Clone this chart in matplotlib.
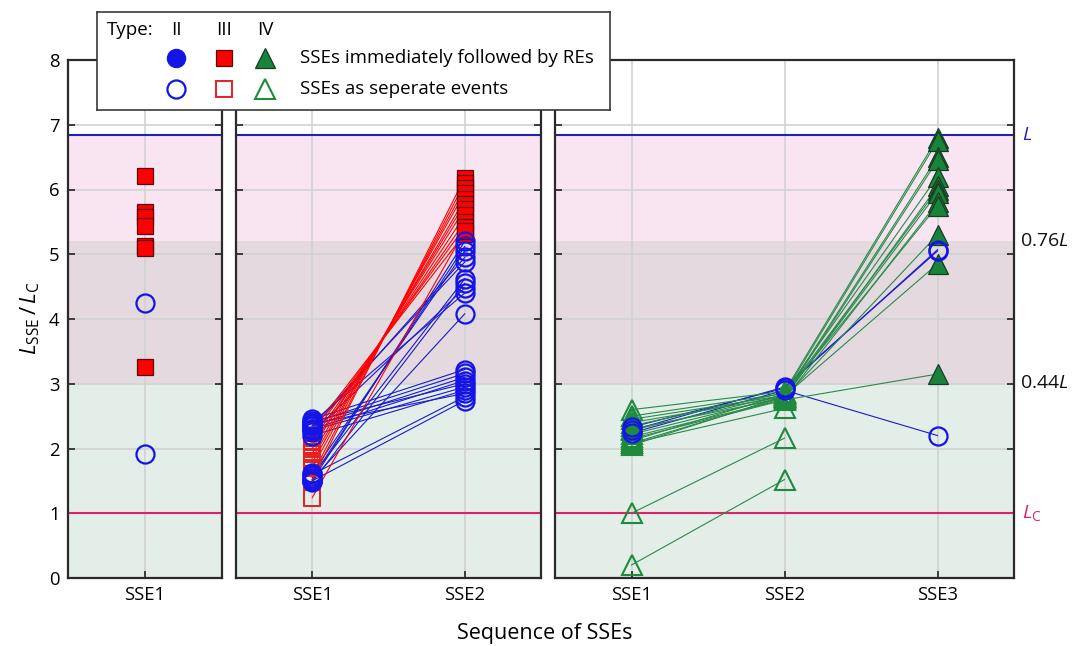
import matplotlib
matplotlib.use("Agg")
import matplotlib.pyplot as plt

plt.rcParams["font.family"] = ["Open Sans", "DejaVu Sans"]
plt.rcParams["mathtext.fontset"] = "custom"
plt.rcParams["mathtext.rm"] = "Open Sans"
plt.rcParams["mathtext.it"] = "Open Sans:italic"

# ---------------------------------------------------------------- data
L_RATIO = 6.84            # L / L_C
UPPER_FRAC = 0.76         # 0.76 L
LOWER_FRAC = 0.44         # 0.44 L
LC_RATIO = 1.0

y_ticks = [0, 1, 2, 3, 4, 5, 6, 7, 8]
cats_p1 = ["SSE1"]
cats_p2 = ["SSE1", "SSE2"]
cats_p3 = ["SSE1", "SSE2", "SSE3"]

# single SSEs
p1_iii_filled = [6.21, 5.65, 5.58, 5.44, 5.13, 5.10, 3.26]
p1_ii_open = [4.25, 1.91]

# two SSEs: type III (SSE2 followed by REs)
p2_iii_sse1 = [1.52, 1.60, 1.70, 1.78, 1.85, 1.92, 2.00, 2.05, 2.12, 2.20, 2.28, 1.24]
p2_iii_sse2 = [6.18, 6.10, 6.02, 5.95, 5.85, 5.78, 5.70, 5.60, 5.50, 5.42, 5.32, 5.36]
# two SSEs: type II (separate events)
p2_ii_sse1 = [1.50, 1.55, 1.62, 2.30, 2.35, 1.58, 1.48, 2.25, 2.40, 1.52,
              2.45, 2.40, 2.35, 2.30, 2.42, 2.28, 2.20, 2.38, 1.60, 1.50]
p2_ii_sse2 = [5.20, 5.12, 5.05, 4.95, 4.88, 4.62, 4.55, 4.48, 4.40, 4.08,
              3.22, 3.16, 3.10, 3.05, 3.00, 2.95, 2.90, 2.85, 2.80, 2.74]

# three SSEs: type IV (SSE3 followed by REs)
p3_iv_sse1 = [2.60, 2.50, 2.45, 2.40, 2.35, 2.30, 2.28, 2.22, 2.18, 2.12, 2.08, 2.05, 2.15]
p3_iv_sse2 = [2.88, 2.85, 2.82, 2.80, 2.86, 2.78, 2.83, 2.80, 2.76, 2.84, 2.79, 2.81, 2.75]
p3_iv_sse3 = [6.80, 6.75, 6.50, 6.45, 6.20, 6.05, 6.00, 5.95, 5.80, 5.75, 5.30, 4.85, 3.15]
# three SSEs: type II
p3_ii_sse1 = [2.33, 2.28, 2.24]
p3_ii_sse2 = [2.93, 2.95, 2.90]
p3_ii_sse3 = [5.07, 5.05, 2.20]
# type IV pairs ending at SSE2
p3_iv_pair_sse1 = [2.08, 1.00, 0.20]
p3_iv_pair_sse2 = [2.62, 2.16, 1.52]

# ---------------------------------------------------------------- style
BLUE = "#1414e6"
BLUE_LINE = "#1a1acc"
RED = "#ff0000"
RED_EDGE = "#5a0a0a"
RED_OPEN = "#e52020"
GREEN = "#17843a"
GREEN_EDGE = "#173a22"
GREEN_OPEN = "#1d8a3c"
GREEN_LINE = "#2a8a4a"
L_COLOR = "#2222b0"
LC_COLOR = "#e0206a"
SHADE_LOW = "#e3eee8"
SHADE_MID = "#e3d9df"
SHADE_TOP = "#f9e5f1"
GRID = "#d2d2d2"

W, H = 1087, 646
fig = plt.figure(figsize=(W / 100, H / 100), dpi=100)

y0_px, y8_px = 578, 60
panels_px = [(68, 222), (236, 541), (555, 1014)]


def add_panel(x0, x1):
    return fig.add_axes([x0 / W, 1 - y0_px / H, (x1 - x0) / W, (y0_px - y8_px) / H])


def style_panel(ax, cats, show_y):
    n = len(cats)
    ax.set_xlim(0.5, n + 0.5)
    ax.set_ylim(0, 8)
    ax.set_axisbelow(True)
    ax.axhspan(0, L_RATIO * LOWER_FRAC, color=SHADE_LOW, lw=0, zorder=0.2)
    ax.axhspan(L_RATIO * LOWER_FRAC, L_RATIO * UPPER_FRAC, color=SHADE_MID, lw=0, zorder=0.2)
    ax.axhspan(L_RATIO * UPPER_FRAC, L_RATIO, color=SHADE_TOP, lw=0, zorder=0.2)
    ax.axhline(L_RATIO, color=L_COLOR, lw=1.5, zorder=1.5)
    ax.axhline(LC_RATIO, color=LC_COLOR, lw=1.5, zorder=1.5)
    ax.set_xticks(range(1, n + 1))
    ax.set_xticklabels(cats, fontsize=13.3)
    ax.set_yticks(y_ticks)
    if show_y:
        ax.set_yticklabels([str(t) for t in y_ticks], fontsize=13.3)
    else:
        ax.set_yticklabels([])
    ax.tick_params(direction="in", length=5, width=1.2, color="#222222",
                   left=True, right=True, bottom=True, top=False, pad=6)
    ax.grid(True, color=GRID, lw=1.2)
    for sp in ax.spines.values():
        sp.set_color("#2a2a2a")
        sp.set_linewidth(1.6)


axes = [add_panel(*p) for p in panels_px]
style_panel(axes[0], cats_p1, True)
style_panel(axes[1], cats_p2, False)
style_panel(axes[2], cats_p3, False)

circ_kw = dict(marker="o", ms=13, mfc="none", mec=BLUE, mew=1.6, ls="none")
sq_fill_kw = dict(marker="s", ms=11, mfc=RED, mec=RED_EDGE, mew=0.9, ls="none")
sq_open_kw = dict(marker="s", ms=11, mfc="none", mec=RED_OPEN, mew=1.4, ls="none")
tri_fill_kw = dict(marker="^", ms=15, mfc=GREEN, mec=GREEN_EDGE, mew=0.9, ls="none")
tri_open_kw = dict(marker="^", ms=15, mfc="none", mec=GREEN_OPEN, mew=1.5, ls="none")

# panel 1
ax = axes[0]
ax.plot([1] * len(p1_iii_filled), p1_iii_filled, zorder=3, **sq_fill_kw)
ax.plot([1] * len(p1_ii_open), p1_ii_open, zorder=4, **circ_kw)

# panel 2
ax = axes[1]
for a, b in zip(p2_ii_sse1, p2_ii_sse2):
    ax.plot([1, 2], [a, b], color=BLUE_LINE, lw=0.8, zorder=2)
for a, b in zip(p2_iii_sse1, p2_iii_sse2):
    ax.plot([1, 2], [a, b], color=RED, lw=0.8, zorder=2.1)
ax.plot([1] * len(p2_iii_sse1), p2_iii_sse1, zorder=3, **sq_open_kw)
ax.plot([2] * len(p2_iii_sse2), p2_iii_sse2, zorder=3, **sq_fill_kw)
ax.plot([1] * len(p2_ii_sse1), p2_ii_sse1, zorder=4, **circ_kw)
ax.plot([2] * len(p2_ii_sse2), p2_ii_sse2, zorder=4, **circ_kw)

# panel 3
ax = axes[2]
for a, b, c in zip(p3_ii_sse1, p3_ii_sse2, p3_ii_sse3):
    ax.plot([1, 2, 3], [a, b, c], color=BLUE_LINE, lw=0.8, zorder=2)
for a, b, c in zip(p3_iv_sse1, p3_iv_sse2, p3_iv_sse3):
    ax.plot([1, 2, 3], [a, b, c], color=GREEN_LINE, lw=0.8, zorder=2.1)
for a, b in zip(p3_iv_pair_sse1, p3_iv_pair_sse2):
    ax.plot([1, 2], [a, b], color=GREEN_LINE, lw=0.8, zorder=2.1)
ax.plot([1] * len(p3_iv_sse1), p3_iv_sse1, zorder=3, **tri_open_kw)
ax.plot([2] * len(p3_iv_sse2), p3_iv_sse2, zorder=3, **tri_open_kw)
ax.plot([1] * len(p3_iv_pair_sse1), p3_iv_pair_sse1, zorder=3, **tri_open_kw)
ax.plot([2] * len(p3_iv_pair_sse2), p3_iv_pair_sse2, zorder=3, **tri_open_kw)
ax.plot([3] * len(p3_iv_sse3), p3_iv_sse3, zorder=3, **tri_fill_kw)
ax.plot([1] * len(p3_ii_sse1), p3_ii_sse1, zorder=4, **circ_kw)
ax.plot([2] * len(p3_ii_sse2), p3_ii_sse2, zorder=4, **circ_kw)
ax.plot([3] * len(p3_ii_sse3), p3_ii_sse3, zorder=4, **circ_kw)

# reference-level labels on the right
tr = ax.get_yaxis_transform()
ax.text(1.018, L_RATIO, r"$L$", transform=tr, color=L_COLOR, fontsize=14,
        va="center", ha="left", clip_on=False)
ax.text(1.012, L_RATIO * UPPER_FRAC, r"$\mathrm{0.76}L$", transform=tr, color="#111111",
        fontsize=14, va="center", ha="left", clip_on=False)
ax.text(1.012, L_RATIO * LOWER_FRAC, r"$\mathrm{0.44}L$", transform=tr, color="#111111",
        fontsize=14, va="center", ha="left", clip_on=False)
ax.text(1.018, LC_RATIO, r"$L_{\mathrm{C}}$", transform=tr, color=LC_COLOR, fontsize=14,
        va="center", ha="left", clip_on=False)

# axis titles
fig.text(30 / W, 1 - 318 / H, r"$L_{\mathrm{SSE}}\,/\,L_{\mathrm{C}}$", rotation=90,
         fontsize=16, ha="center", va="center")
fig.text(545 / W, 1 - 634 / H, "Sequence of SSEs", fontsize=15.5, ha="center", va="center")

# legend box
lx0, lx1, ly0, ly1 = 97, 610, 12, 110
lg = fig.add_axes([lx0 / W, 1 - ly1 / H, (lx1 - lx0) / W, (ly1 - ly0) / H], zorder=10)
lg.set_xlim(0, lx1 - lx0)
lg.set_ylim(ly1 - ly0, 0)
lg.set_xticks([])
lg.set_yticks([])
lg.set_facecolor("white")
for sp in lg.spines.values():
    sp.set_color("#3a3a3a")
    sp.set_linewidth(1.2)

fs = 13.5
lg.text(10, 18, "Type:", fontsize=fs, va="center", ha="left")
for xc, lab in [(79, "II"), (127, "III"), (168, "IV")]:
    lg.text(xc, 18, lab, fontsize=fs, va="center", ha="center")
r1, r2 = 46, 77
lg.plot(79, r1, marker="o", ms=13, mfc=BLUE, mec=BLUE, ls="none")
lg.plot(127, r1, **sq_fill_kw)
lg.plot(168, r1, **tri_fill_kw)
lg.plot(79, r2, **circ_kw)
lg.plot(127, r2, **sq_open_kw)
lg.plot(168, r2, **tri_open_kw)
lg.text(203, r1, "SSEs immediately followed by REs", fontsize=fs, va="center", ha="left")
lg.text(203, r2, "SSEs as seperate events", fontsize=fs, va="center", ha="left")

fig.savefig("out.png", dpi=100)
